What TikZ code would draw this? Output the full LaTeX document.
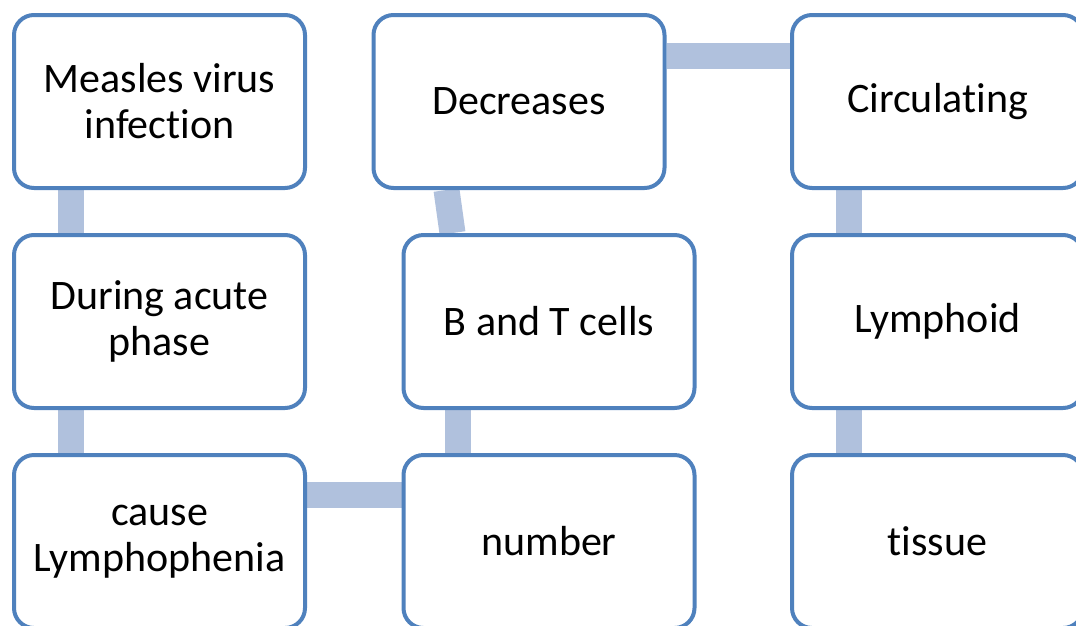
\documentclass[tikz,border=0pt]{standalone}
\usepackage{fontspec}
\setmainfont{Carlito}[Ligatures=NoCommon]
\usetikzlibrary{backgrounds}
\definecolor{boxblue}{HTML}{4F81BD}
\definecolor{linkblue}{HTML}{B0C1DD}

\begin{document}
\begin{tikzpicture}[x=1pt, y=-1pt,
    box/.style={draw=boxblue, fill=white, line width=4pt, rounded corners=20pt,
        minimum width=291pt, minimum height=173pt, align=center,
        font=\fontsize{42}{46}\selectfont},
    link/.style={draw=linkblue, line width=26pt}]
    \useasboundingbox (0,0) rectangle (1076,625);
    \clip (0,0) rectangle (1076,625);

    \node[box] at (159.5,101.5) (measles) {Measles virus\\infection};
    \node[box] at (159.5,321.5) (acute) {During acute\\phase};
    \node[box] at (159.5,541.5) (cause) {cause\\Lymphophenia};

    \node[box] at (519,101.5) (decr) {Decreases};
    \node[box] at (549,321.5) (cells) {B and T cells};
    \node[box] at (549,541.5) (number) {number};

    \node[box] at (937.5,101.5) (circ) {Circulating};
    \node[box] at (937.5,321.5) (lymph) {Lymphoid};
    \node[box] at (937.5,541.5) (tissue) {tissue};

    \begin{scope}[on background layer]
        \draw[link] ([xshift=59pt]measles.south west) -- ([xshift=59pt]acute.north west);
        \draw[link] ([xshift=59pt]acute.south west) -- ([xshift=59pt]cause.north west);
        \draw[link] ([yshift=-42pt]cause.north east) -- ([yshift=-42pt]number.north west);
        \draw[link] ([xshift=56pt]number.north west) -- ([xshift=56pt]cells.south west);
        \draw[link] ([xshift=51pt]cells.north west) -- ([xshift=75pt]decr.south west);
        \draw[link] ([yshift=-43pt]decr.north east) -- ([yshift=-43pt]circ.north west);
        \draw[link] ([xshift=59pt]circ.south west) -- ([xshift=59pt]lymph.north west);
        \draw[link] ([xshift=59pt]lymph.south west) -- ([xshift=59pt]tissue.north west);
    \end{scope}

\end{tikzpicture}
\end{document}
